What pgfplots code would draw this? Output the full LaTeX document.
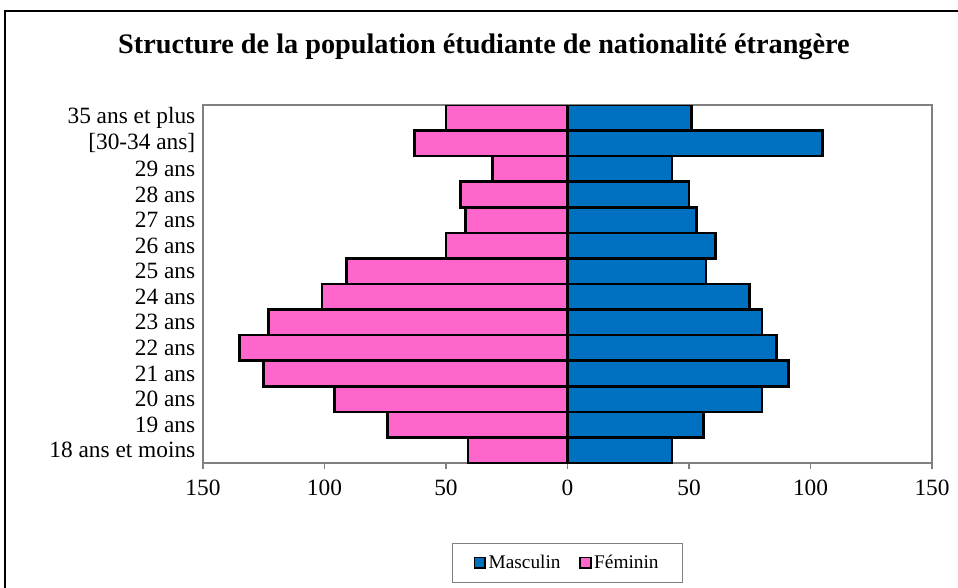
\documentclass[border=0pt]{standalone}
\usepackage{pgfplots}
\pgfplotsset{compat=1.18}
\usepackage{pgfplotstable}
\usepackage{fontspec}
\setmainfont{Liberation Serif}
\definecolor{masc}{HTML}{0070C0}
\definecolor{fem}{HTML}{FF66CC}
\definecolor{axgray}{HTML}{808080}

% age groups: 0 = 18 ans et moins ... 13 = 35 ans et plus
\pgfplotstableread{
y  m    f
0  43  -41
1  56  -74
2  80  -96
3  91  -125
4  86  -135
5  80  -123
6  75  -101
7  57  -91
8  61  -50
9  53  -42
10 50  -44
11 43  -31
12 105 -63
13 51  -50
}\pyramid

\begin{document}
\begin{tikzpicture}
\useasboundingbox (0,0) rectangle (718.5pt,440.25pt);
\draw[black,line width=1pt] (3.75pt,-5pt) rectangle (730pt,432pt);
\node[font=\fontsize{21.2}{25}\selectfont\bfseries] at (363pt,405pt) {Structure de la population étudiante de nationalité étrangère};
\begin{axis}[
  at={(152.25pt,93pt)}, anchor=south west,
  scale only axis, width=546.75pt, height=268.5pt,
  xbar, bar shift=0pt, bar width=1,
  xmin=-150, xmax=150, ymin=-0.5, ymax=13.5,
  xtick={-150,-100,-50,0,50,100,150},
  xticklabels={150,100,50,0,50,100,150},
  xtick pos=bottom,
  ytick={0,...,13},
  yticklabels={18 ans et moins,19 ans,20 ans,21 ans,22 ans,23 ans,24 ans,25 ans,26 ans,27 ans,28 ans,29 ans,{[30-34 ans]},35 ans et plus},
  ytick style={draw=none},
  tick align=outside, xtick style={axgray, thick},
  axis line style={axgray, line width=1.2pt},
  tick label style={font=\fontsize{17.5}{20}\selectfont},
  /pgf/number format/assume math mode=true,
  xticklabel style={yshift=-5pt},
  yticklabel style={xshift=2pt},
  legend columns=2,
  legend style={at={(0.5,-0.279)}, anchor=center, draw=axgray,
    font=\fontsize{14.5}{17}\selectfont, inner xsep=16pt, inner ysep=7pt,
    /tikz/every even column/.append style={column sep=12pt}},
  legend cell align=left,
  legend image code/.code={\draw[#1,line width=1.2pt] (0pt,-4pt) rectangle (8pt,4pt);},
]
\addplot[fill=masc, draw=black, line width=2pt] table[x=m,y=y] {\pyramid};
\addlegendentry{Masculin}
\addplot[fill=fem, draw=black, line width=2pt] table[x=f,y=y] {\pyramid};
\addlegendentry{Féminin}
\end{axis}
\end{tikzpicture}
\end{document}
